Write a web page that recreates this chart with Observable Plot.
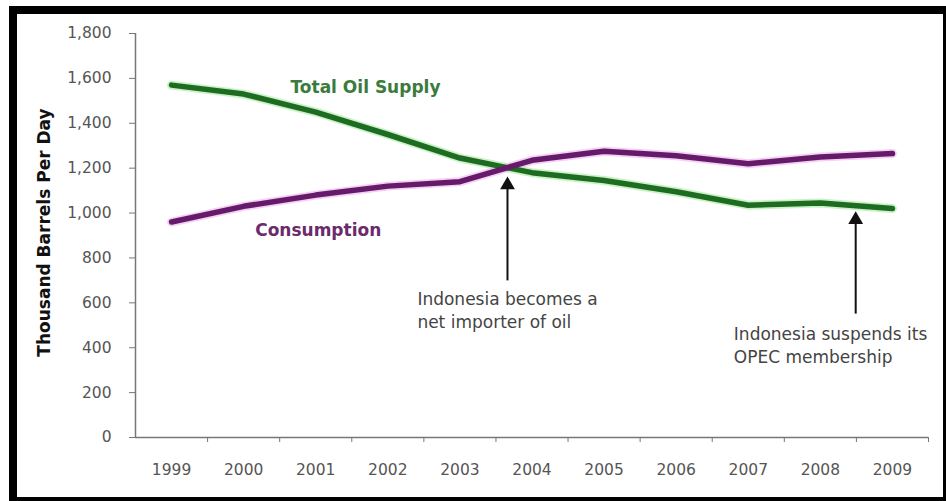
<!DOCTYPE html>
<html>
<head>
<meta charset="utf-8">
<script src="https://cdn.jsdelivr.net/npm/d3@7"></script>
<script src="https://cdn.jsdelivr.net/npm/@observablehq/plot@0.6"></script>
<style>
  html, body { margin: 0; padding: 0; background: #fff; }
  #wrap { position: relative; width: 946px; height: 501px; overflow: hidden; }
  #frame { position: absolute; left: 9px; top: 6px; width: 926px; height: 483px; border: 8px solid #000; pointer-events: none; }
</style>
</head>
<body>
<div id="wrap"><div id="chart"></div><div id="frame"></div></div>
<script>
// Data
const years = [1999, 2000, 2001, 2002, 2003, 2004, 2005, 2006, 2007, 2008, 2009];
const totalOilSupply = [1570, 1530, 1450, 1350, 1245, 1180, 1145, 1095, 1035, 1045, 1020];
const consumption = [960, 1030, 1080, 1120, 1140, 1235, 1275, 1255, 1220, 1250, 1265];
const yTicks = [0, 200, 400, 600, 800, 1000, 1200, 1400, 1600, 1800];
const yearBoundaries = [1999.5, 2000.5, 2001.5, 2002.5, 2003.5, 2004.5, 2005.5, 2006.5, 2007.5, 2008.5, 2009.5];

// Series labels (data units)
const seriesLabels = [
  {text: "Total Oil Supply", x: 2000.65, y: 1560, color: "#3b7b3b"},
  {text: "Consumption", x: 2000.16, y: 920, color: "#6b2a6b"}
];
// Annotations (data units)
const annotations = [
  {text: "Indonesia becomes a\nnet importer of oil", x: 2002.41, y: 572},
  {text: "Indonesia suspends its\nOPEC membership", x: 2006.8, y: 417}
];
const arrows = [
  {x: 2003.66, yFrom: 700, yTo: 1120},
  {x: 2008.49, yFrom: 552, yTo: 965}
];
const arrowTips = [
  {x: 2003.66, y: 1125},
  {x: 2008.49, y: 970}
];

const rows = years.map((year, i) => ({year, supply: totalOilSupply[i], consumption: consumption[i]}));

const chart = Plot.plot({
  width: 946,
  height: 501,
  marginLeft: 135,
  marginRight: 18,
  marginTop: 33,
  marginBottom: 64,
  style: {fontFamily: "DejaVu Sans, Verdana, sans-serif", fontSize: "15.5px", color: "#555", background: "transparent"},
  x: {type: "linear", domain: [1998.5, 2009.5]},
  y: {domain: [0, 1800]},
  marks: [
    Plot.axisY({ticks: yTicks, tickSize: 6, tickPadding: 18, tickFormat: d3.format(","), label: null, stroke: "#777", fill: "#555"}),
    Plot.axisX({ticks: years, tickSize: 0, tickPadding: 26, tickFormat: d => String(d), label: null, fill: "#555"}),
    Plot.axisX({ticks: yearBoundaries, tickSize: 5, tickFormat: () => "", label: null, stroke: "#777"}),
    Plot.ruleY([0], {stroke: "#777", strokeWidth: 1.5}),
    Plot.ruleX([1998.5], {stroke: "#777", strokeWidth: 1.5}),
    Plot.text(["Thousand Barrels Per Day"], {frameAnchor: "left", textAnchor: "middle", rotate: -90, dx: -91, dy: -3, fontWeight: "bold", fontSize: 17, fill: "#111"}),
    // halos
    Plot.line(rows, {x: "year", y: "supply", stroke: "#a8eaa0", strokeWidth: 9, strokeOpacity: 0.6, strokeLinejoin: "round", strokeLinecap: "round"}),
    Plot.line(rows, {x: "year", y: "consumption", stroke: "#eeb0ee", strokeWidth: 9, strokeOpacity: 0.6, strokeLinejoin: "round", strokeLinecap: "round"}),
    Plot.line(rows, {x: "year", y: "supply", stroke: "#1e6b22", strokeWidth: 5.5, strokeLinejoin: "round", strokeLinecap: "round"}),
    Plot.line(rows, {x: "year", y: "consumption", stroke: "#661a6a", strokeWidth: 5.5, strokeLinejoin: "round", strokeLinecap: "round"}),
    Plot.text(seriesLabels, {x: "x", y: "y", text: "text", fill: "color", fontWeight: "bold", fontSize: 17, textAnchor: "start"}),
    Plot.link(arrows, {x1: "x", x2: "x", y1: "yFrom", y2: "yTo", stroke: "#111", strokeWidth: 2}),
    Plot.dot(arrowTips, {x: "x", y: "y", symbol: "triangle", r: 5.5, fill: "#111", stroke: "none"}),
    Plot.text(annotations, {x: "x", y: "y", text: "text", textAnchor: "start", fontSize: 17, fill: "#444", lineHeight: 1.35})
  ]
});
document.getElementById("chart").appendChild(chart);
</script>
</body>
</html>
